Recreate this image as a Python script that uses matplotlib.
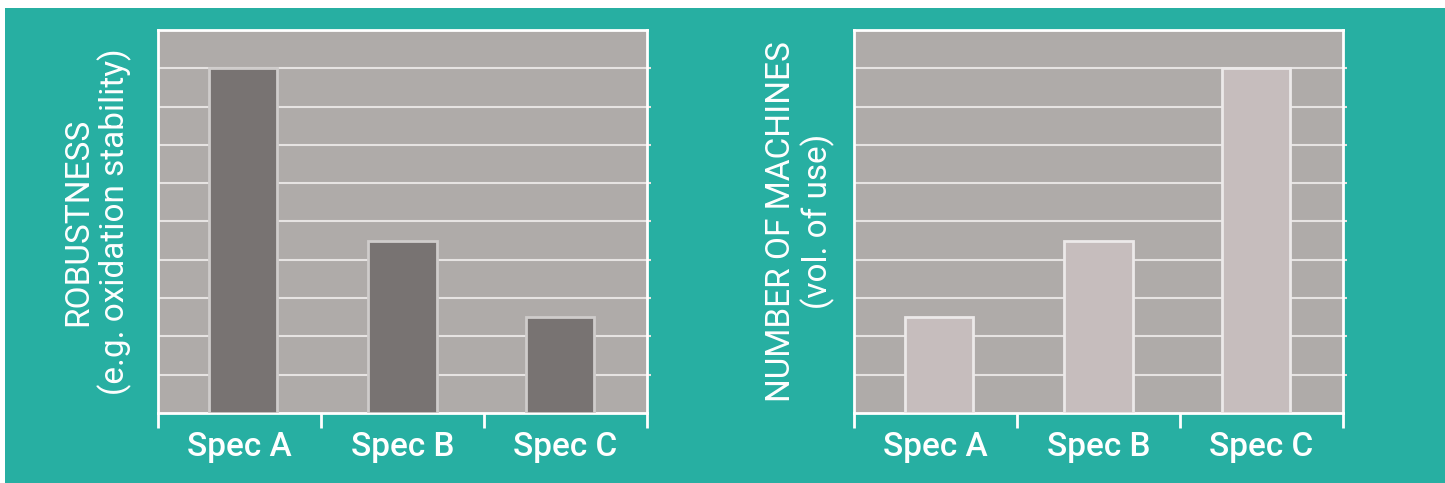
import matplotlib
matplotlib.use("Agg")
import matplotlib.pyplot as plt
from matplotlib.patches import Rectangle

categories = ["Spec A", "Spec B", "Spec C"]
robustness = [9.0, 4.5, 2.5]
machines = [2.5, 4.5, 9.0]
left_label = "ROBUSTNESS\n(e.g. oxidation stability)"
right_label = "NUMBER OF MACHINES\n(vol. of use)"

TEAL = "#27afa2"
AX_BG = "#afaba9"
GRID = "#e6e3e2"

plt.rcParams['font.family'] = ['Roboto', 'DejaVu Sans']

fig = plt.figure(figsize=(14.45, 4.83), dpi=100, facecolor="white")
fig.patches.append(Rectangle((5/1445, 0), 1 - 5/1445, (483-8)/483,
                             transform=fig.transFigure, facecolor=TEAL,
                             edgecolor="none", zorder=-10))

axes_specs = [
    (158/1445, robustness, "#787372", "#cfcccb", left_label, 19),
    (854/1445, machines, "#c6bdbd", "#ece9e9", right_label, 14),
]
bar_offsets = [0.02, 0.0, -0.035]

for x0, vals, fc, ec, lab, lpad in axes_specs:
    ax = fig.add_axes([x0, 70/483, 489/1445, 383/483])
    ax.set_facecolor(AX_BG)
    xs = list(range(len(categories)))
    ax.bar([x + o for x, o in zip(xs, bar_offsets)], vals, width=0.42,
           color=fc, edgecolor=ec, linewidth=2, zorder=3)
    ax.set_xlim(-0.5, len(categories) - 0.5)
    ax.set_ylim(0, 10)
    ax.set_yticks(range(1, 10))
    ax.yaxis.grid(True, color=GRID, linewidth=1.5, zorder=1)
    ax.set_axisbelow(True)
    ax.tick_params(axis='y', which='both', left=False, right=True, length=3,
                   color=GRID, width=1.5, labelleft=False, labelright=False)
    ax.set_xticks([i - 0.5 for i in range(len(categories) + 1)])
    ax.set_xticklabels([])
    ax.set_xticks(xs, minor=True)
    ax.set_xticklabels(categories, minor=True, fontweight='medium')
    ax.tick_params(axis='x', which='major', length=11, width=2, color="white",
                   direction='out')
    ax.tick_params(axis='x', which='minor', length=0, pad=13, labelsize=24,
                   labelcolor="white")
    for s in ax.spines.values():
        s.set_color("white")
        s.set_linewidth(2)
    ax.set_ylabel(lab, color="white", fontsize=24, labelpad=lpad,
                  linespacing=1.1, fontweight='normal')

fig.savefig("out.png", dpi=100, facecolor=fig.get_facecolor())
